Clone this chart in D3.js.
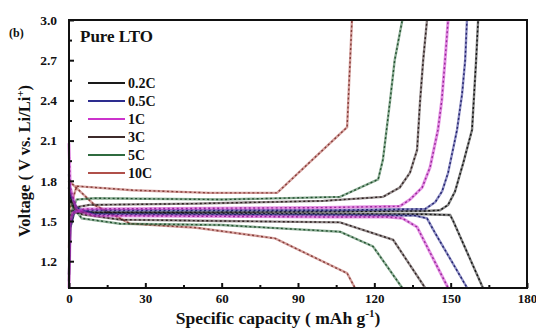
<!DOCTYPE html>
<html>
<head>
<meta charset="utf-8">
<script src="https://cdn.jsdelivr.net/npm/d3@7"></script>
<style>
  body { margin: 0; background: #fff; }
  svg text { font-family: "Liberation Serif", "Times New Roman", serif; font-weight: bold; fill: #111; }
</style>
</head>
<body>
<div id="chart"></div>
<script>
// rates shown in the legend
var rates = ["0.2C", "0.5C", "1C", "3C", "5C", "10C"];

// [capacity (mAh/g), voltage (V)]
var charge02 = [[0,1.05],[0.5,1.45],[2,1.56],[6,1.565],[40,1.565],[100,1.57],[140,1.575],[145.8,1.58],[149,1.62],[151.7,1.72],[154.9,1.93],[158.4,2.18],[160,2.7],[160.8,3.0]];
var discharge02 = [[0,1.75],[0.5,1.65],[3,1.58],[10,1.56],[80,1.555],[140,1.55],[149.8,1.545],[151,1.5],[162.7,1.0]];

var charge05 = [[0,1.1],[0.5,1.45],[2,1.57],[8,1.58],[100,1.58],[140,1.59],[143.9,1.64],[146.6,1.72],[149,1.86],[152.5,2.18],[154.5,2.45],[155.7,2.7],[156.4,3.0]];
var discharge05 = [[0,1.85],[0.5,1.7],[3,1.6],[10,1.55],[100,1.545],[136,1.54],[140.7,1.52],[143.9,1.41],[156.5,1.0]];

var charge1 = [[0,1.0],[0.5,1.5],[1.5,1.56],[6,1.59],[100,1.6],[130,1.61],[134,1.66],[138.8,1.75],[141.9,1.9],[145,2.18],[146.5,2.4],[147.8,2.7],[149,3.0]];
var discharge1 = [[0,2.08],[0.5,1.75],[3,1.58],[10,1.54],[100,1.53],[125,1.53],[131,1.52],[136.8,1.455],[149,1.0]];

var charge3 = [[0,1.1],[0.5,1.5],[2,1.6],[8,1.62],[50,1.63],[100,1.65],[123.4,1.68],[130,1.75],[134,1.86],[136.8,2.03],[138,2.4],[139.2,2.7],[140.7,3.0]];
var discharge3 = [[0,1.8],[1,1.65],[5,1.55],[20,1.51],[60,1.5],[106.5,1.49],[127.4,1.36],[140,1.0]];

var charge5 = [[0,1.2],[0.5,1.55],[3,1.66],[10,1.67],[60,1.66],[106.5,1.68],[121.5,1.81],[123.4,1.96],[126.2,2.4],[128,2.7],[131,3.0]];
var discharge5 = [[0,1.75],[1,1.62],[5,1.52],[20,1.48],[60,1.47],[106.5,1.42],[119.5,1.31],[131,1.0]];

var charge10 = [[0,1.3],[0.5,1.6],[3,1.76],[25,1.73],[55,1.71],[81.8,1.71],[109.3,2.2],[111.2,3.0]];
var discharge10 = [[0,1.8],[10,1.62],[24,1.48],[50,1.45],[81,1.37],[109.3,1.11],[112.4,1.0]];

var xTicks = [0, 30, 60, 90, 120, 150, 180];
var xMinor = [15, 45, 75, 105, 135, 165];
var yTicks = [1.2, 1.5, 1.8, 2.1, 2.4, 2.7, 3.0];
var yMinor = [1.35, 1.65, 1.95, 2.25, 2.55, 2.85];

var colors = ["#1a1a1a", "#2d2d8f", "#cc33cc", "#3d2b2b", "#2f6b3f", "#b0504a"];
var curves = [
	[charge02, discharge02],
	[charge05, discharge05],
	[charge1, discharge1],
	[charge3, discharge3],
	[charge5, discharge5],
	[charge10, discharge10]
];

drawChart();

function drawChart()
{
	var width = 536;
	var height = 328;
	var padLeft = 69, padRight = 527, padTop = 20, padBottom = 288;

	var xScale = d3.scaleLinear().domain([0, 180]).range([padLeft, padRight]);
	var yScale = d3.scaleLinear().domain([1.0, 3.0]).range([padBottom, padTop]);

	var svg = d3.select("#chart")
		.append("svg")
		.attr("width", width)
		.attr("height", height);

	var line = d3.line()
		.x(function(d){ return xScale(d[0]); })
		.y(function(d){ return yScale(d[1]); });

	var plot = svg.append("g");

	// 1C goes on top, it is the thick purple band in the middle
	var order = [5, 4, 3, 0, 1, 2];
	order.forEach(function(i){
		curves[i].forEach(function(c){
			plot.append("path")
				.attr("d", line(c))
				.attr("fill", "none")
				.attr("stroke", colors[i])
				.attr("stroke-opacity", 0.55)
				.attr("stroke-width", i == 2 ? 3 : 2.4);
			plot.append("path")
				.attr("d", line(c))
				.attr("fill", "none")
				.attr("stroke", d3.color(colors[i]).darker(0.8))
				.attr("stroke-width", 1.4)
				.attr("stroke-dasharray", "2,2.5");
		});
	});

	// axes, ticks inward
	var xAxis = d3.axisBottom(xScale).tickValues(xTicks).tickSize(-5).tickPadding(6).tickFormat(d3.format("d"));
	var yAxis = d3.axisLeft(yScale).tickValues(yTicks).tickSize(-5).tickPadding(12).tickFormat(d3.format(".1f"));

	var gx = svg.append("g")
		.attr("transform", "translate(0," + padBottom + ")")
		.call(xAxis);
	var gy = svg.append("g")
		.attr("transform", "translate(" + padLeft + ",0)")
		.call(yAxis);

	// minor ticks
	svg.append("g")
		.attr("transform", "translate(0," + padBottom + ")")
		.call(d3.axisBottom(xScale).tickValues(xMinor).tickSize(-3).tickFormat(""));
	svg.append("g")
		.attr("transform", "translate(" + padLeft + ",0)")
		.call(d3.axisLeft(yScale).tickValues(yMinor).tickSize(-3).tickFormat(""));

	svg.selectAll(".domain").remove();
	svg.selectAll(".tick line").attr("stroke", "#111").attr("stroke-width", 2);
	gx.selectAll("text").style("font-size", "13px");
	gy.selectAll("text").style("font-size", "13.5px");

	// frame
	svg.append("rect")
		.attr("x", padLeft)
		.attr("y", padTop)
		.attr("width", padRight - padLeft)
		.attr("height", padBottom - padTop)
		.attr("fill", "none")
		.attr("stroke", "#111")
		.attr("stroke-width", 2);

	// legend
	var legend = svg.append("g");
	rates.forEach(function(r, i){
		var y = 83 + i * 18;
		legend.append("line")
			.attr("x1", 88).attr("x2", 125)
			.attr("y1", y).attr("y2", y)
			.attr("stroke", colors[i])
			.attr("stroke-width", 2);
		legend.append("text")
			.attr("x", 128)
			.attr("y", y + 5)
			.style("font-size", "14px")
			.text(r);
	});

	svg.append("text")
		.attr("x", 80)
		.attr("y", 42)
		.style("font-size", "17px")
		.text("Pure LTO");

	svg.append("text")
		.attr("x", 9)
		.attr("y", 37)
		.style("font-size", "12px")
		.text("(b)");

	// axis titles
	var yt = svg.append("text")
		.attr("transform", "translate(30,161) rotate(-90)")
		.attr("text-anchor", "middle")
		.style("font-size", "16.5px");
	yt.append("tspan").text("Voltage ( V vs. Li/Li");
	yt.append("tspan").attr("dy", -6).style("font-size", "11px").text("+");
	yt.append("tspan").attr("dy", 6).text(")");

	var xt = svg.append("text")
		.attr("x", 278)
		.attr("y", 324)
		.attr("text-anchor", "middle")
		.style("font-size", "17.5px");
	xt.append("tspan").text("Specific capacity ( mAh g");
	xt.append("tspan").attr("dy", -7).style("font-size", "11px").text("-1");
	xt.append("tspan").attr("dy", 7).text(")");
}
</script>
</body>
</html>
